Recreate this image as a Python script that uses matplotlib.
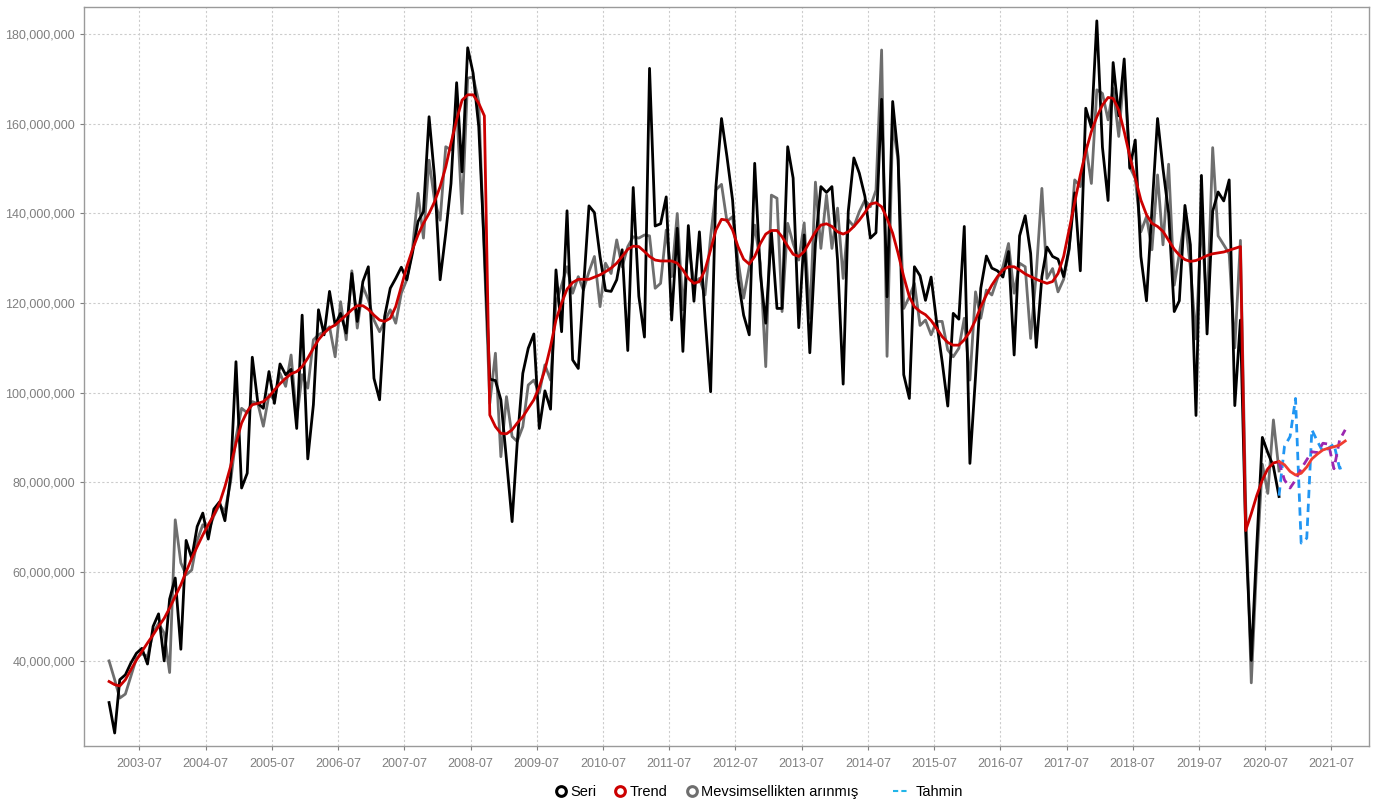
import matplotlib
matplotlib.use("Agg")
import matplotlib.pyplot as plt
import matplotlib.dates as mdates
from matplotlib.lines import Line2D
from matplotlib.ticker import FuncFormatter
import pandas as pd

plt.rcParams["font.family"] = ["Liberation Sans", "DejaVu Sans"]

# aylik seri, 2003-01 .. 2020-09 (milyon)
seri = [30.8, 24.0, 35.9, 37.0, 39.6, 41.8, 42.9, 39.4, 47.8, 50.6, 40.1, 53.9,
        58.6, 42.7, 67.0, 63.0, 70.1, 73.1, 67.3, 74.0, 75.6, 71.4, 81.2, 106.9,
        78.7, 82.0, 107.9, 97.6, 96.5, 104.7, 97.6, 106.4, 104.0, 105.2, 92.0, 117.3,
        85.2, 97.3, 118.5, 112.9, 122.6, 115.1, 117.7, 113.3, 126.6, 115.9, 124.8, 128.1,
        103.2, 98.4, 117.0, 123.3, 125.5, 128.0, 125.2, 131.1, 138.2, 140.4, 161.6, 148.2,
        125.2, 135.6, 146.7, 169.2, 149.3, 177.0, 171.3, 159.4, 132.0, 103.0, 102.7, 98.4,
        85.0, 71.2, 88.7, 104.3, 109.9, 113.1, 92.0, 100.4, 96.3, 127.4, 113.6, 140.6,
        107.3, 105.4, 122.9, 141.7, 140.2, 130.4, 122.8, 122.6, 125.2, 131.9, 109.4, 145.8,
        121.5, 112.4, 172.4, 137.2, 137.7, 143.7, 116.2, 136.7, 109.2, 137.3, 120.4, 135.9,
        117.0, 100.2, 146.0, 161.2, 152.7, 143.0, 125.5, 117.3, 112.9, 151.2, 126.6, 115.5,
        135.9, 118.8, 118.8, 154.9, 147.9, 114.5, 135.2, 108.9, 133.3, 146.0, 144.7, 146.0,
        129.6, 101.9, 140.4, 152.4, 149.0, 143.8, 134.5, 135.7, 165.5, 121.4, 165.0, 152.7,
        104.0, 98.7, 128.1, 126.1, 120.6, 125.8, 115.9, 106.9, 97.0, 117.7, 116.4, 137.1,
        84.2, 103.6, 123.3, 130.5, 127.8, 127.2, 125.8, 131.5, 108.4, 135.0, 139.5, 131.1,
        110.1, 125.9, 132.5, 130.4, 129.8, 125.9, 132.2, 144.6, 127.2, 163.5, 159.2, 183.0,
        154.8, 142.9, 173.7, 161.8, 174.5, 150.1, 156.4, 130.4, 120.5, 140.8, 161.2, 150.0,
        140.1, 118.1, 120.5, 141.8, 133.0, 94.9, 148.5, 113.1, 140.5, 144.8, 142.8, 147.5,
        97.1, 116.2, 68.8, 40.2, 65.6, 90.0, 86.6, 83.5, 76.8]

trend = [35.5, 34.8, 34.5, 35.9, 38.1, 40.3, 42.2, 44.1, 45.9, 47.8, 49.6, 51.9,
         54.5, 57.1, 60.0, 63.0, 65.6, 68.2, 70.5, 72.7, 75.3, 79.0, 83.5, 88.7,
         93.2, 95.8, 97.3, 97.6, 98.0, 99.1, 100.6, 102.0, 103.2, 104.2, 104.7, 105.8,
         107.7, 109.9, 111.8, 113.3, 114.4, 115.1, 116.2, 117.3, 118.5, 119.4, 119.4, 118.6,
         117.3, 116.2, 115.9, 116.6, 119.2, 123.7, 128.1, 131.9, 135.2, 137.8, 140.0, 142.6,
         146.0, 150.4, 155.7, 160.9, 165.3, 166.5, 166.5, 164.6, 161.8, 95.0, 92.4, 90.9,
         90.8, 91.7, 93.2, 94.6, 96.5, 98.4, 101.3, 105.1, 110.3, 116.2, 120.0, 123.1,
         124.6, 125.3, 125.3, 125.3, 125.8, 126.3, 127.0, 127.8, 128.9, 130.4, 132.0, 132.7,
         132.6, 131.5, 130.4, 129.6, 129.4, 129.4, 129.4, 128.9, 127.4, 125.5, 124.4, 124.8,
         127.4, 131.9, 136.3, 138.7, 138.5, 136.3, 132.6, 129.8, 128.7, 130.4, 133.3, 135.4,
         136.2, 136.2, 134.8, 132.7, 130.9, 130.4, 131.5, 133.7, 135.9, 137.4, 137.7, 137.1,
         135.9, 135.4, 135.9, 137.1, 138.5, 140.2, 142.1, 142.4, 141.5, 138.9, 135.6, 131.1,
         125.9, 121.4, 119.2, 118.1, 117.4, 116.1, 114.4, 112.5, 111.2, 110.6, 110.6, 111.8,
         113.6, 116.2, 119.2, 121.8, 124.0, 125.9, 127.4, 128.1, 128.1, 127.4, 126.5, 125.9,
         125.3, 124.8, 124.4, 124.8, 126.6, 130.4, 136.3, 142.3, 148.6, 153.8, 158.3, 161.6,
         164.2, 165.9, 165.7, 163.1, 158.3, 152.7, 147.9, 143.0, 139.7, 137.8, 137.1, 136.0,
         134.0, 132.0, 130.7, 129.7, 129.3, 129.5, 130.0, 130.6, 131.0, 131.2, 131.4, 131.8,
         132.2, 132.6, 69.2, 73.0, 77.0, 80.5, 83.0, 84.3, 84.6]

mevsim = [40.1, 35.9, 31.8, 32.7, 36.6, 40.7, 41.7, 41.1, 46.3, 48.5, 46.3, 37.5,
          71.6, 62.0, 59.3, 60.4, 67.0, 70.5, 69.0, 72.5, 75.0, 73.5, 80.0, 90.0,
          96.5, 95.5, 98.0, 97.5, 92.5, 99.5, 98.5, 104.3, 101.4, 108.4, 94.0, 104.0,
          101.0, 111.8, 112.9, 113.6, 114.7, 108.0, 120.3, 111.8, 127.2, 114.4, 123.7, 120.7,
          116.2, 113.6, 115.9, 118.5, 115.5, 122.2, 125.2, 131.9, 144.5, 134.5, 151.9, 143.0,
          138.5, 154.9, 154.2, 163.9, 140.0, 170.2, 170.5, 165.0, 130.0, 97.6, 108.8, 85.7,
          99.1, 90.2, 89.1, 92.4, 101.7, 102.8, 99.9, 106.2, 102.8, 120.0, 124.0, 128.1,
          122.2, 125.9, 122.9, 127.0, 130.4, 119.2, 128.9, 126.6, 134.1, 128.1, 132.6, 134.8,
          134.5, 135.2, 135.0, 123.3, 124.4, 136.3, 125.9, 140.0, 118.5, 133.3, 124.4, 125.5,
          121.8, 134.8, 145.3, 146.5, 138.2, 139.3, 129.6, 121.1, 128.1, 137.4, 128.9, 105.8,
          144.1, 143.4, 118.1, 137.8, 133.3, 129.6, 137.9, 116.6, 147.0, 132.2, 144.1, 132.2,
          141.2, 125.5, 138.6, 137.1, 140.4, 143.0, 141.5, 145.2, 176.5, 108.1, 160.1, 151.9,
          118.8, 121.4, 124.4, 115.0, 116.2, 112.9, 115.9, 115.9, 109.5, 108.0, 109.9, 116.6,
          102.8, 122.5, 116.6, 122.9, 121.8, 125.5, 128.1, 133.3, 122.2, 128.9, 128.1, 112.1,
          126.6, 145.6, 125.5, 127.7, 122.5, 125.3, 131.8, 147.5, 146.0, 155.3, 146.7, 167.6,
          166.8, 160.9, 167.9, 157.2, 172.0, 150.4, 147.8, 135.9, 139.3, 131.9, 148.6, 133.0,
          151.0, 124.0, 131.0, 139.0, 128.0, 112.0, 139.0, 118.0, 154.7, 135.0, 133.0, 131.0,
          110.0, 134.0, 75.0, 35.2, 62.0, 84.0, 77.5, 93.9, 82.5]

# tahminler, 2020-09 .. 2021-09
trend_tahmin = [84.6, 83.9, 82.4, 81.6, 82.0, 83.4, 85.2, 86.3, 87.2, 87.6, 87.9, 88.3, 89.2]
mevsim_tahmin = [84.5, 80.5, 78.7, 80.5, 83.0, 85.0, 86.8, 86.6, 88.7, 88.5, 83.0, 89.4, 91.7]
tahmin = [77.0, 88.0, 90.2, 98.7, 66.4, 67.5, 91.7, 89.1, 86.8, 87.6, 88.5, 83.1, 83.5]

M = 1e6
tarih = pd.date_range("2003-01-01", periods=len(seri), freq="MS") + pd.Timedelta(days=14)
t_tarih = pd.date_range("2020-09-01", periods=len(tahmin), freq="MS") + pd.Timedelta(days=14)

fig = plt.figure(figsize=(13.78, 8.05), dpi=100)
ax = fig.add_axes([0.061, 0.0733, 0.9325, 0.918])

ax.plot(tarih, [v * M for v in mevsim], color="#6e6e6e", lw=2.0)
ax.plot(tarih, [v * M for v in seri], color="black", lw=2.0)
ax.plot(tarih, [v * M for v in trend], color="#cc0000", lw=2.0)

ax.plot(t_tarih, [v * M for v in tahmin], color="#2196f3", lw=2.0, linestyle=(0, (3, 2)))
ax.plot(t_tarih, [v * M for v in mevsim_tahmin], color="#9c27b0", lw=2.0, linestyle=(0, (3, 2)))
ax.plot(t_tarih, [v * M for v in trend_tahmin], color="#f03c30", lw=2.0)

# eksenler
bas = mdates.date2num(pd.Timestamp("2003-01-15"))
ax.set_xlim(bas - 4.53 * 30.44, bas + 228.3 * 30.44)
ax.set_ylim(21.1 * M, 186.1 * M)

xt = pd.date_range("2003-07-01", "2021-07-01", freq="12MS")
ax.set_xticks(xt)
ax.xaxis.set_major_formatter(mdates.DateFormatter("%Y-%m"))
ax.set_yticks([v * M for v in range(40, 181, 20)])
ax.yaxis.set_major_formatter(FuncFormatter(lambda v, p: "{:,.0f}".format(v)))

ax.tick_params(labelsize=9, colors="#7f7f7f", length=3, width=0.8)
ax.tick_params(axis="x", pad=6)
for s in ax.spines.values():
    s.set_color("#9a9a9a")
    s.set_linewidth(1.0)
ax.grid(True, linestyle=(0, (2, 2)), color="#cccccc", lw=0.8)
ax.set_axisbelow(True)

# lejant: isaretli seriler ve tahmin ayri
h1 = [Line2D([], [], marker="o", ls="none", mfc="white", mec="black", mew=2.2, ms=7),
      Line2D([], [], marker="o", ls="none", mfc="white", mec="#cc0000", mew=2.2, ms=7),
      Line2D([], [], marker="o", ls="none", mfc="white", mec="#6e6e6e", mew=2.2, ms=7)]
fig.legend(h1, ["Seri", "Trend", "Mevsimsellikten arınmış"],
           loc="center", bbox_to_anchor=(707 / 1378, 13 / 805), ncol=3, frameon=False,
           fontsize=10.5, handlelength=0.7, handletextpad=0.3, columnspacing=1.3)
h2 = [Line2D([], [], color="#22b5e8", lw=1.5, ls=(0, (2.5, 1.5)))]
fig.legend(h2, ["Tahmin"], loc="center", bbox_to_anchor=(928 / 1378, 13 / 805),
           frameon=False, fontsize=10.5, handlelength=1.1, handletextpad=0.5)

plt.savefig("out.png", dpi=100)
